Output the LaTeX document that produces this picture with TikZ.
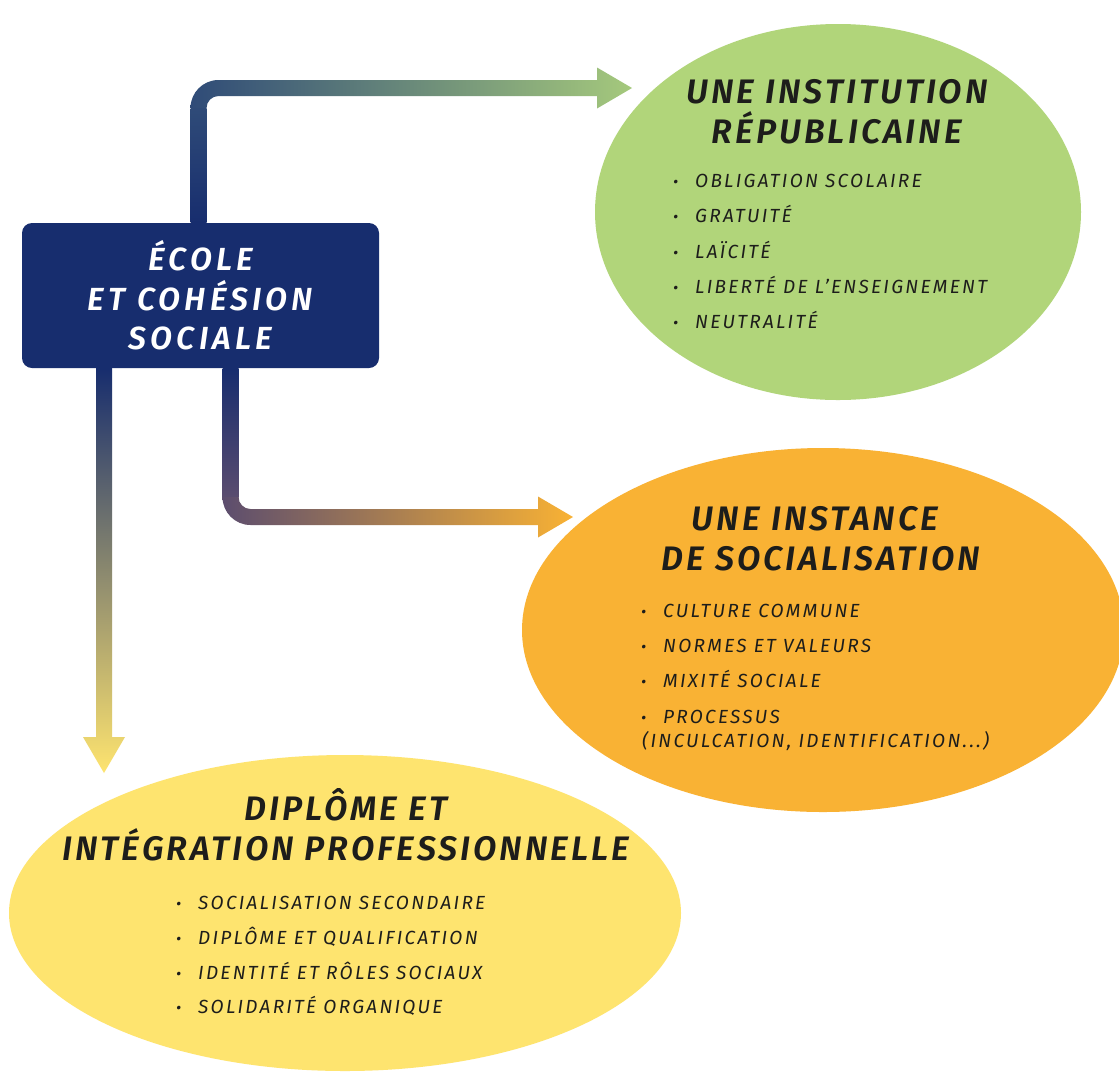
\documentclass[tikz,border=0pt]{standalone}
\usepackage{fontspec}
\setmainfont{Fira Sans}[BoldItalicFont={Fira Sans SemiBold Italic}]
\usetikzlibrary{shapes,calc}
\definecolor{marine}{HTML}{172D6E}
\definecolor{vert}{HTML}{B1D57A}
\definecolor{orangec}{HTML}{F9B234}
\definecolor{jaune}{HTML}{FEE46F}
\definecolor{encre}{HTML}{1D1D1B}
\newcommand{\puce}{\makebox[22pt][l]{\fontsize{16}{16}\selectfont•}}

\begin{document}
\begin{tikzpicture}[x=1pt,y=-1pt]
\tikzstyle{boite}=[fill=marine,rounded corners=10pt,minimum width=357pt,minimum height=145pt,text=white,align=center,font=\fontsize{32}{39.5}\selectfont\bfseries\itshape\addfontfeature{LetterSpace=13}];
\tikzstyle{bulle}=[ellipse,inner sep=0pt];
\tikzstyle{titre}=[anchor=base,inner sep=0pt,text=encre,font=\fontsize{34}{34}\selectfont\bfseries\itshape\addfontfeature{LetterSpace=9}];
\tikzstyle{item}=[anchor=base west,inner sep=0pt,text=encre,font=\fontsize{19}{19}\selectfont\itshape\addfontfeature{LetterSpace=12}];
\path [use as bounding box,fill=white] (0,0) rectangle (1119,1072);
\node [bulle,fill=vert,minimum width=486pt,minimum height=376pt] (inst) at (838,212) {};
\node [bulle,fill=orangec,minimum width=602pt,minimum height=364pt] (soc) at (823,630) {};
\node [bulle,fill=jaune,minimum width=672pt,minimum height=316pt] (dipl) at (345,913) {};
\node [boite] (ecole) at (200.5,295.5) {ÉCOLE\\ET COHÉSION\\SOCIALE};
\coordinate (c1) at (198.5,88);
\coordinate (p1) at (632,88);
\coordinate (c2) at (230.5,517);
\coordinate (p2) at (573,517);
\coordinate (p3) at (104,773);
\shade [top color={rgb,255:red,47;green,75;blue,120},bottom color=marine] ($(ecole.north)+(-10,0)$) rectangle ($(c1)+(8,20)$);
\shade [left color={rgb,255:red,47;green,75;blue,120},middle color={rgb,255:red,88;green,119;blue,128},right color={rgb,255:red,165;green,201;blue,124}] ($(c1)+(-8,20)$) arc[start angle=180,end angle=90,radius=28pt] -- ($(p1)+(-35,-8)$) -- ($(p1)+(-35,-20.5)$) -- (p1) -- ($(p1)+(-35,20.5)$) -- ($(p1)+(-35,8)$) -- ($(c1)+(20,8)$) arc[start angle=90,end angle=180,radius=12pt] -- cycle;
\shade [top color=marine,middle color={rgb,255:red,30;green,47;blue,108},bottom color={rgb,255:red,90;green,76;blue,111}] ($(ecole.south)+(22,0)$) rectangle ($(c2)+(8,-20)$);
\shade [left color={rgb,255:red,92;green,77;blue,110},middle color={rgb,255:red,138;green,109;blue,100},right color=orangec] ($(c2)+(-8,-20)$) arc[start angle=180,end angle=270,radius=28pt] -- ($(p2)+(-35,8)$) -- ($(p2)+(-35,20.5)$) -- (p2) -- ($(p2)+(-35,-20.5)$) -- ($(p2)+(-35,-8)$) -- ($(c2)+(20,-8)$) arc[start angle=270,end angle=180,radius=12pt] -- cycle;
\shade [top color=marine,middle color={rgb,255:red,105;green,100;blue,132},bottom color=jaune] ($(ecole.south)+(-104.5,0)$) -- ($(p3)+(-8,-36)$) -- ($(p3)+(-21,-36)$) -- (p3) -- ($(p3)+(21,-36)$) -- ($(p3)+(8,-36)$) -- ($(ecole.south)+(-88.5,0)$) -- cycle;
\node [titre] (inst1) at (837,103) {UNE INSTITUTION};
\node [titre] (inst2) at (837,143) {RÉPUBLICAINE};
\node [item] (i1) at (673,187) {\puce OBLIGATION SCOLAIRE};
\node [item] (i2) at (673,222) {\puce GRATUITÉ};
\node [item] (i3) at (673,258) {\puce LAÏCITÉ};
\node [item] (i4) at (673,293) {\puce LIBERTÉ DE L’ENSEIGNEMENT};
\node [item] (i5) at (673,328) {\puce NEUTRALITÉ};
\node [titre] (soc1) at (815,530) {UNE INSTANCE};
\node [titre] (soc2) at (821,570) {DE SOCIALISATION};
\node [item] (s1) at (641,617) {\puce CULTURE COMMUNE};
\node [item] (s2) at (641,652) {\puce NORMES ET VALEURS};
\node [item] (s3) at (641,687) {\puce MIXITÉ SOCIALE};
\node [item] (s4) at (641,723) {\puce PROCESSUS};
\node [item] (s5) at (642,747) {(INCULCATION, IDENTIFICATION...)};
\node [titre] (dipl1) at (346,820) {DIPLÔME ET};
\node [titre] (dipl2) at (346,860) {INTÉGRATION PROFESSIONNELLE};
\node [item] (d1) at (176,909) {\puce SOCIALISATION SECONDAIRE};
\node [item] (d2) at (176,944) {\puce DIPLÔME ET QUALIFICATION};
\node [item] (d3) at (176,979) {\puce IDENTITÉ ET RÔLES SOCIAUX};
\node [item] (d4) at (176,1013) {\puce SOLIDARITÉ ORGANIQUE};
\end{tikzpicture}
\end{document}
